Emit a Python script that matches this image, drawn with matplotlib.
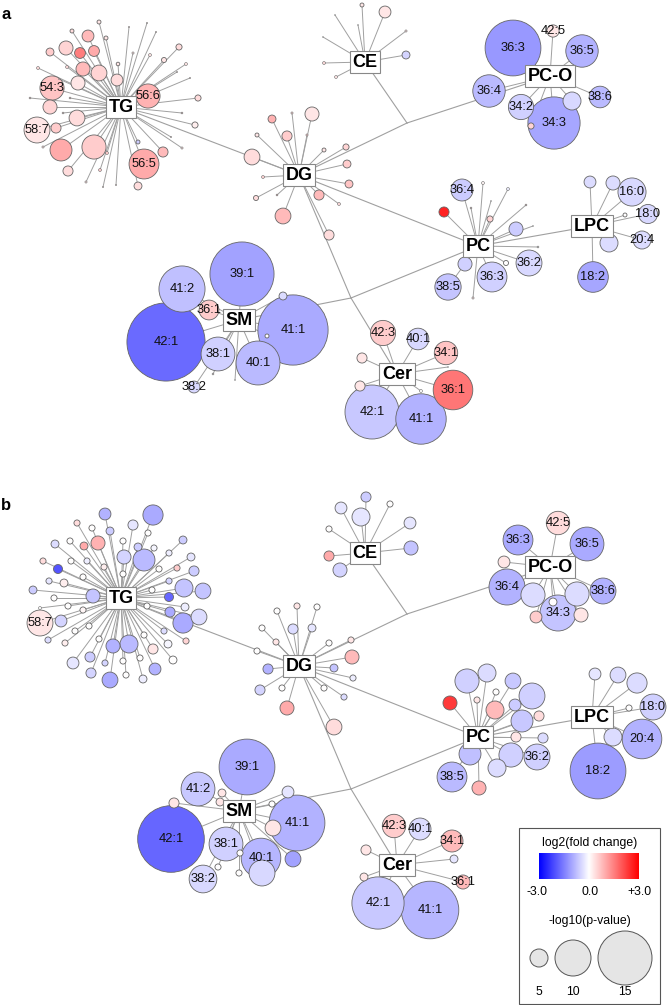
import matplotlib
matplotlib.use("Agg")
import matplotlib.pyplot as plt
from matplotlib.patches import Circle, Rectangle
from matplotlib.colors import LinearSegmentedColormap, Normalize
import numpy as np

plt.rcParams['font.family'] = ['Liberation Sans', 'DejaVu Sans']

# ---------------- data: log2 fold change / -log10 p per lipid species ----------------
# labelled species come first in every list, the labels list holds their names

# panel a
a_TG_lab = ['54:3', '58:7', '56:6', '56:5']
a_TG_fc = [0.7, 0.3, 0.9, 1.0,
           0.4, 0.8, 0.3, 0.3, 0.5, 1.5, 1.0, 0.6, 0.8, 0.5, 0.3, 0.4, 0.3, 0.5, 0.4,
           0.6, 1.0, 0.6, 0.4, 0.6, 0.6, -0.6, 0.8, 0.4, 0.4, 0.2, 0.4, 0.3, 0.3, 0.3,
           0.3, 0.3, 0.3, 0.3, 0.3, 0.3, 0.3, 0.3, 0.4, 0.3, 0.3, 0.3, 0.4, 0.3, 0.3,
           0.3, 0.3, 0.3, 0.3]
a_TG_logp = [6.7, 7.2, 6.7, 8.3,
             1.1, 3.3, 1.1, 1.1, 3.9, 3.0, 3.0, 2.2, 3.9, 4.4, 1.0, 3.3, 3.9, 3.9, 4.4,
             2.8, 6.1, 6.7, 2.8, 0.8, 0.8, 1.1, 2.8, 2.2, 1.7, 1.7, 1.7, 1.4, 0.8, 0.8,
             0.6, 0.6, 0.6, 0.6, 0.3, 0.3, 0.5, 0.5, 0.8, 0.3, 0.5, 0.5, 0.8, 0.3, 0.3,
             0.3, 0.3, 0.3, 0.3]

a_DG_lab = []
a_DG_fc = [0.9, 0.4, 0.3, 0.6, 0.3, 0.5, 0.4, 0.3, 0.5, 0.6, 0.7, 0.8, 0.4, 0.5,
           0.4, 0.5, 0.8, 0.4]
a_DG_logp = [2.2, 0.6, 3.9, 2.8, 1.1, 0.6, 4.4, 1.1, 1.7, 2.2, 2.2, 2.8, 0.8, 0.8,
             1.4, 0.5, 4.4, 2.8]

a_CE_lab = []
a_CE_fc = [0.3, 0.3, 0.3, -0.5, 0.4, 0.3, 0.0, 0.0, 0.0]
a_CE_logp = [1.1, 3.3, 0.6, 2.2, 0.8, 0.8, 0.2, 0.2, 0.2]

a_PCO_lab = ['36:3', '42:5', '36:5', '36:4', '34:2', '34:3', '38:6']
a_PCO_fc = [-1.2, 0.3, -0.9, -0.8, -0.55, -1.05, -0.8, -0.45, 0.5]
a_PCO_logp = [15.5, 3.4, 9.0, 9.0, 7.0, 14.5, 6.0, 5.0, 1.7]

a_PC_lab = ['36:4', '36:2', '36:3', '38:5']
a_PC_fc = [-0.6, -0.45, -0.55, -0.7,
           2.6, 0.1, -0.2, 0.3, 0.5, 0.3, -0.6, 0.0, 0.0, 0.0, 0.0, -0.55, 0.3]
a_PC_logp = [6.1, 7.2, 8.3, 7.3,
             2.8, 0.8, 0.8, 0.5, 1.7, 0.5, 3.9, 0.5, 0.2, 0.2, 1.4, 3.9, 0.6]

a_LPC_lab = ['16:0', '18:0', '20:4', '18:2']
a_LPC_fc = [-0.45, -0.45, -0.4, -1.05, -0.4, -0.4, 0.0, -0.4]
a_LPC_logp = [7.8, 5.3, 5.0, 8.5, 3.3, 3.9, 1.1, 5.0]

a_SM_lab = ['41:2', '39:1', '36:1', '42:1', '38:1', '38:2', '40:1', '41:1']
a_SM_fc = [-0.75, -1.1, 0.6, -1.75, -0.55, -0.45, -0.8, -1.0, 0.0, -0.4, 0.1, 0.0]
a_SM_logp = [12.8, 17.8, 5.5, 21.7, 9.4, 3.3, 12.2, 19.5, 1.1, 2.2, 0.5, 0.2]

a_Cer_lab = ['42:3', '40:1', '34:1', '36:1', '42:1', '41:1']
a_Cer_fc = [0.6, -0.45, 0.7, 1.6, -0.65, -0.9, 0.3, 0.3, 0.0, 0.0]
a_Cer_logp = [7.0, 6.0, 6.5, 11.0, 15.0, 14.0, 2.8, 2.8, 0.8, 0.2]

# panel b
b_TG_lab = ['58:7']
b_TG_fc = [0.3,
           -0.9, -1.0, 0.4, -0.3, -0.6, 0.0, 0.0, 0.9, 1.0, 0.0, -0.4, 0.0, -0.6, -0.1,
           -0.6, -0.5, -0.8, -0.2, -0.3, -0.2, 0.0, 0.4, -2.0, 0.2, 0.0, 0.6, 0.0, -0.6,
           -0.3, 0.2, 0.0, -0.5, -0.7, -0.7, -0.6, 0.0, -0.7, 0.0, -1.8, 0.0, 0.1, 0.0,
           -1.0, -0.2, 0.0, -0.5, 0.0, 0.0, -1.0, -0.4, -0.4, 0.2, 0.0, -0.9, -0.8, 0.0,
           0.3, -0.4, -0.1, 0.5, 0.0, -0.3, -0.6, -0.5, 0.0, 0.0, -0.9, -0.5, -1.0, 0.0,
           -0.2]
b_TG_logp = [7.2,
             3.3, 5.6, 1.7, 2.8, 2.2, 1.7, 1.7, 3.9, 2.2, 1.7, 2.2, 1.7, 2.2, 1.7,
             2.2, 3.9, 6.1, 1.7, 2.2, 1.7, 1.7, 1.7, 2.5, 1.7, 1.7, 1.7, 1.7, 2.8,
             1.7, 2.2, 1.7, 1.7, 5.0, 4.4, 2.2, 1.7, 3.9, 1.7, 2.5, 1.7, 1.7, 1.7,
             2.8, 2.2, 0.8, 3.3, 1.7, 1.7, 5.6, 4.4, 1.7, 1.7, 1.7, 3.9, 5.0, 1.7,
             2.8, 1.7, 2.2, 1.7, 2.2, 3.3, 2.8, 1.7, 1.7, 1.7, 3.3, 2.8, 4.4, 1.7,
             2.2]

b_DG_lab = []
b_DG_fc = [0.0, 0.3, 0.0, 0.0, -0.4, -0.3, 0.3, 0.0, 0.0, 0.3, 0.8, -0.9, -0.7,
           -0.2, -0.5, 0.0, 0.0, -0.4, 1.0, 0.4]
b_DG_logp = [1.7, 1.7, 1.7, 1.7, 2.8, 2.2, 1.7, 1.7, 1.7, 1.7, 3.9, 2.8, 2.2,
             1.7, 2.8, 1.7, 1.7, 1.7, 3.9, 4.4]

b_CE_lab = []
b_CE_fc = [-0.6, -0.3, 0.0, -0.3, -0.3, 0.0, -0.7, 1.0, -0.5]
b_CE_logp = [2.8, 3.3, 1.7, 5.0, 3.3, 1.7, 3.9, 2.8, 3.9]

b_PCO_lab = ['36:3', '42:5', '36:5', '36:4', '34:3', '38:6']
b_PCO_fc = [-1.0, 0.4, -1.0, -0.9, -0.7, -0.9, 0.3, -0.4, 0.0, 0.6, 0.3, -0.4]
b_PCO_logp = [8.3, 6.5, 9.4, 10.0, 10.0, 7.2, 3.3, 6.7, 2.2, 3.3, 3.9, 6.7]

b_PC_lab = ['36:2', '38:5']
b_PC_fc = [-0.55, -0.8,
           -0.55, -0.4, -0.65, 0.0, 0.3, 2.3, -0.55, 0.8, -0.6, 0.4, -0.65, 0.3, -0.4,
           -0.55, -0.4, -0.75, 0.9]
b_PC_logp = [7.2, 8.3,
             6.7, 5.0, 4.4, 1.7, 1.7, 3.9, 7.2, 5.0, 3.3, 2.8, 6.1, 2.8, 2.8,
             6.7, 5.0, 6.1, 3.9]

b_LPC_lab = ['18:0', '20:4', '18:2']
b_LPC_fc = [-0.55, -0.9, -1.15, -0.3, -0.4, -0.4, 0.0, -0.4]
b_LPC_logp = [7.2, 11.0, 15.5, 3.3, 4.4, 5.6, 1.7, 5.0]

b_SM_lab = ['39:1', '41:2', '42:1', '38:1', '38:2', '40:1', '41:1']
b_SM_fc = [-1.0, -0.65, -1.8, -0.55, -0.45, -0.85, -0.9,
           0.3, 0.3, 0.3, 0.0, 0.0, 0.0, -0.45, -1.1, 0.3, 0.0, -0.3]
b_SM_logp = [15.5, 9.4, 18.5, 9.4, 7.7, 11.0, 15.5,
             2.8, 2.2, 2.2, 1.7, 1.7, 1.7, 7.2, 4.4, 4.4, 1.7, 3.3]

b_Cer_lab = ['42:3', '40:1', '34:1', '36:1', '42:1', '41:1']
b_Cer_fc = [0.6, -0.4, 0.8, 0.8, -0.65, -0.85, 0.3, 0.3, -0.3]
b_Cer_logp = [6.5, 6.1, 6.1, 3.9, 14.5, 16.0, 2.8, 2.2, 2.2]

# ---------------- layout (pixel offsets of species from their class box) ----------------
a_TG_xy = [(-69, -19), (-84, 23), (27, -11), (23, 57),
           (-49, -76), (-33, -71), (-15, -69), (-22, -85), (-55, -59), (-41, -54), (-27, -56),
           (-71, -55), (-38, -38), (-22, -34), (-3, -43), (-4, -27), (-43, -24), (-71, 0),
           (-44, 11), (-65, 21), (-60, 43), (-27, 40), (-53, 64), (-14, 46), (-21, 63),
           (17, 35), (42, 45), (17, 79), (77, -9), (74, 18), (58, -60), (43, -47), (65, -43),
           (29, -52), (12, -54), (-78, 40), (-35, 75), (61, 41), (26, -84), (69, -29), (61, 6),
           (-91, -9), (-83, -39), (-18, 80), (-58, 6), (-51, -9), (-54, -40), (56, -35),
           (50, 30), (-5, 78), (8, -80), (35, -75), (-62, -28)]
a_DG_xy = [(-27, -56), (-7, -62), (13, -61), (-12, -39), (-42, -40), (8, -40), (-47, -18),
           (25, -25), (47, -28), (48, -11), (50, 9), (20, 20), (40, 29), (-36, 2), (-43, 23),
           (-22, 20), (-16, 41), (30, 60)]
a_CE_xy = [(-3, -57), (20, -50), (41, -31), (41, -7), (-41, 1), (-29, 15), (-30, -47),
           (-42, -25), (-7, -37)]
a_PCO_xy = [(-37, -28), (3, -45), (32, -25), (-61, 15), (-29, 31), (4, 47), (50, 21),
            (22, 25), (-19, 50)]
a_PC_xy = [(-16, -56), (51, 17), (14, 31), (-30, 41),
           (-34, -34), (5, -63), (30, -57), (-7, -38), (12, -27), (48, -41), (38, -17),
           (60, 1), (55, -20), (13, -45), (28, 17), (-13, 18), (-5, 52)]
a_LPC_xy = [(40, -34), (56, -12), (50, 14), (1, 51), (-2, -44), (21, -43), (33, -11), (17, 17)]
a_SM_xy = [(-57, -31), (3, -46), (-30, -10), (-73, 22), (-21, 34), (-45, 67), (19, 43),
           (54, 10), (28, 16), (44, -24), (-26, 54), (-4, 60)]
a_Cer_xy = [(-14, -41), (21, -35), (49, -21), (56, 16), (-25, 38), (24, 45), (-35, -16),
            (-37, 12), (24, 17), (51, -7)]

b_TG_xy = [(-81, 25),
           (-16, -84), (32, -83), (-44, -75), (12, -73), (-11, -67), (-29, -70), (27, -65),
           (-23, -55), (-37, -52), (-51, -57), (-66, -54), (2, -57), (17, -51), (33, -50),
           (62, -58), (3, -41), (23, -38), (48, -45), (70, -41), (-34, -37), (-50, -37),
           (-78, -37), (-63, -29), (-17, -31), (2, -24), (56, -30), (38, -29), (73, -27),
           (-72, -17), (-57, -15), (-38, -21), (48, -17), (63, -10), (82, -7), (-88, -8),
           (-67, 0), (-28, -2), (31, -8), (48, -1), (-53, 8), (-38, 12), (26, 8), (49, 14),
           (64, 9), (-81, 10), (-60, 23), (-46, 33), (-32, 28), (62, 25), (78, 19),
           (-73, 42), (-56, 45), (-22, 41), (-8, 48), (8, 46), (23, 37), (32, 51), (43, 33),
           (47, 46), (65, 43), (52, 62), (-48, 65), (-31, 59), (-16, 65), (2, 63), (19, 60),
           (34, 71), (-30, 75), (-11, 82), (5, 77), (22, 81)]
b_DG_xy = [(-22, -55), (-2, -60), (18, -59), (-37, -38), (-6, -37), (13, -38), (-23, -24),
           (-42, -15), (30, -23), (52, -26), (53, -9), (-31, 3), (35, 2), (54, 12), (-39, 24),
           (-17, 22), (25, 22), (45, 31), (-12, 42), (35, 61)]
b_CE_xy = [(1, -56), (-24, -45), (25, -49), (-4, -36), (45, -30), (-36, -24), (46, -5),
           (-36, 3), (-25, 17)]
b_PCO_xy = [(-32, -27), (8, -44), (37, -23), (-43, 20), (8, 46), (53, 24), (-46, -5),
            (-17, 28), (3, 35), (-14, 50), (31, 48), (27, 27)]
b_PC_xy = [(59, 20), (-26, 40),
           (-11, -56), (9, -64), (35, -56), (18, -45), (-1, -37), (-28, -34), (54, -41),
           (17, -27), (37, -32), (61, -21), (44, -16), (38, 0), (65, 1), (33, 18), (19, 31),
           (-8, 17), (1, 51)]
b_LPC_xy = [(61, -10), (50, 22), (6, 54), (3, -43), (26, -42), (45, -34), (37, -9), (21, 20)]
b_SM_xy = [(8, -44), (-41, -22), (-68, 28), (-13, 33), (-36, 68), (22, 47), (58, 12),
           (-65, -8), (-17, -18), (-19, -9), (-21, 56), (1, 42), (0, 62), (23, 62), (54, 48),
           (34, 17), (33, -7), (49, -19)]
b_Cer_xy = [(-3, -39), (23, -36), (55, -24), (66, 17), (-19, 38), (33, 45), (-31, -15),
            (-33, 12), (57, -6)]

# class boxes and junctions of the backbone (panel a; panel b is shifted down)
hub_pos = {'TG': (121, 107), 'DG': (299, 175), 'CE': (365, 62), 'PC-O': (550, 76),
           'PC': (478, 246), 'LPC': (592, 226), 'SM': (239, 320), 'Cer': (397, 374),
           'J1': (407, 123), 'J2': (351, 298)}
backbone = [('TG', 'DG'), ('DG', 'J1'), ('J1', 'CE'), ('J1', 'PC-O'), ('DG', 'PC'),
            ('DG', 'J2'), ('J2', 'Cer'), ('SM', 'J2'), ('J2', 'PC'), ('PC', 'LPC')]
panel_shift = {'a': 0, 'b': 491}

g = globals()
key = {'TG': 'TG', 'DG': 'DG', 'CE': 'CE', 'PC-O': 'PCO', 'PC': 'PC', 'LPC': 'LPC',
       'SM': 'SM', 'Cer': 'Cer'}

cmap = LinearSegmentedColormap.from_list('bwr2', ['#0000ff', '#ffffff', '#ff0000'])
norm = Normalize(-3, 3)
RSCALE = 1.8          # circle radius (px) per unit of -log10(p)
LINE = '#a0a0a0'
EDGE = '#666666'

fig = plt.figure(figsize=(6.68, 10.05), dpi=100)
ax = fig.add_axes([0, 0, 1, 1])
ax.set_xlim(0, 668)
ax.set_ylim(1005, 0)
ax.axis('off')

for p, dy in panel_shift.items():
    pos = {h: (x, y + dy) for h, (x, y) in hub_pos.items()}
    for u, v in backbone:
        ax.plot([pos[u][0], pos[v][0]], [pos[u][1], pos[v][1]], color=LINE, lw=0.8, zorder=1)

    nodes = []
    for h, k in key.items():
        hx, hy = pos[h]
        xy = g[f'{p}_{k}_xy']
        fc = g[f'{p}_{k}_fc']
        lp = g[f'{p}_{k}_logp']
        lab = g[f'{p}_{k}_lab']
        for i in range(len(xy)):
            x, y = hx + xy[i][0], hy + xy[i][1]
            ax.plot([hx, x], [hy, y], color=LINE, lw=0.7, zorder=2)
            nodes.append((lp[i] * RSCALE, x, y, fc[i], lab[i] if i < len(lab) else ''))

    # big circles first so small ones stay visible
    nodes.sort(key=lambda n: -n[0])
    for z, (r, x, y, f, lab) in enumerate(nodes):
        ax.add_patch(Circle((x, y), r, facecolor=cmap(norm(f)), edgecolor=EDGE,
                            lw=0.6 if r > 1.5 else 0.4, zorder=3 + z * 0.001))
        if lab:
            ax.text(x, y, lab, ha='center', va='center', fontsize=9.3, color='#111111',
                    zorder=5)

    for h in key:
        ax.text(pos[h][0], pos[h][1], h, ha='center', va='center', fontsize=13,
                fontweight='bold', zorder=6,
                bbox=dict(boxstyle='square,pad=0.15', fc='white', ec='#888888', lw=0.8))

    ax.text(1, 14 + dy, p, ha='left', va='center', fontsize=12, fontweight='bold')

# legend
ax.add_patch(Rectangle((519, 828), 141, 176, fill=False, ec='#555555', lw=0.8, zorder=6))
ax.text(590, 843, 'log2(fold change)', ha='center', va='center', fontsize=8.8, zorder=7)
grad = np.linspace(-3, 3, 256).reshape(1, -1)
ax.imshow(grad, cmap=cmap, norm=norm, extent=(539, 639, 879, 853), aspect='auto', zorder=7)
for x, t in zip([537, 590, 639], ['-3.0', '0.0', '+3.0']):
    ax.text(x, 892, t, ha='center', va='center', fontsize=8.8, zorder=7)
ax.text(590, 921, '-log10(p-value)', ha='center', va='center', fontsize=8.8, zorder=7)
for x, v in zip([539, 573, 625], [5, 10, 15]):
    ax.add_patch(Circle((x, 958), v * RSCALE, fc='#e5e5e5', ec='#555555', lw=0.7, zorder=7))
    ax.text(x, 992, str(v), ha='center', va='center', fontsize=8.8, zorder=7)
ax.set_xlim(0, 668)
ax.set_ylim(1005, 0)

fig.savefig('out.png', dpi=100)
